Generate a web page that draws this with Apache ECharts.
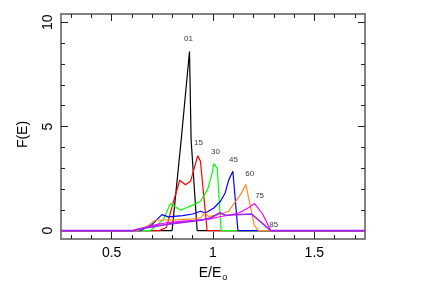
<!DOCTYPE html>
<html><head><meta charset="utf-8">
<script src="https://cdn.jsdelivr.net/npm/echarts@6/dist/echarts.min.js"></script>
<style>html,body{margin:0;padding:0;background:#fff}#c{width:422px;height:288px}</style>
</head><body><div id="c"></div>
<script>
// Data: [E/Eo, F(E)]
const s01 = [[0.25,0],[0.798,0],[0.843,4.35],[0.884,8.6],[0.892,4.35],[0.922,0],[1.75,0]];
const s15 = [[0.25,0],[0.735,0],[0.77,0.15],[0.803,1.33],[0.836,2.42],[0.864,2.2],[0.889,2.37],[0.925,3.6],[0.938,3.33],[0.971,0],[1.75,0]];
const s30 = [[0.25,0],[0.69,0],[0.755,0.53],[0.79,1.3],[0.839,0.98],[0.905,1.25],[0.938,1.41],[0.973,1.97],[0.996,2.77],[1.004,3.22],[1.021,3.0],[1.04,0],[1.75,0]];
const s45 = [[0.25,0],[0.64,0],[0.70,0.3],[0.748,0.77],[0.78,0.66],[0.85,0.72],[0.90,0.8],[0.938,0.93],[0.963,0.85],[1.004,1.09],[1.037,1.41],[1.06,1.81],[1.078,2.45],[1.098,2.85],[1.103,2.8],[1.123,0],[1.75,0]];
const s60 = [[0.25,0],[0.63,0],[0.68,0.25],[0.715,0.5],[0.80,0.52],[0.90,0.57],[0.94,0.62],[0.958,0.85],[0.98,0.68],[1.04,0.8],[1.077,0.93],[1.10,1.25],[1.136,1.73],[1.162,2.21],[1.204,0.25],[1.224,0],[1.75,0]];
const s75 = [[0.25,0],[0.60,0],[0.65,0.12],[0.70,0.25],[0.77,0.38],[0.85,0.46],[0.91,0.5],[0.98,0.55],[1.04,0.68],[1.08,0.74],[1.13,0.86],[1.175,1.1],[1.205,1.3],[1.245,0.8],[1.285,0],[1.75,0]];
const s85 = [[0.25,0],[0.60,0],[0.65,0.1],[0.69,0.17],[0.77,0.3],[0.87,0.42],[0.95,0.52],[0.99,0.62],[1.035,0.86],[1.06,0.74],[1.19,0.8],[1.285,0],[1.75,0]];
const seriesNames = ['01','15','30','45','60','75','85'];
const seriesColors = ['#000000','#ff0000','#00ff00','#0000ff','#ff8c1a','#ff00ff','#a020f0'];
const seriesData = [s01,s15,s30,s45,s60,s75,s85];
// label anchor positions (data coords)
const labelPos = [[0.879,9.2],[0.928,4.21],[1.012,3.78],[1.101,3.39],[1.181,2.72],[1.230,1.67],[1.30,0.27]];
const xMinorTicks = [0.3,0.4,0.6,0.7,0.8,0.9,1.1,1.2,1.3,1.4,1.6,1.7];
const xMajorTicks = [0.5,1.0,1.5];
const yMinorTicks = [1,2,3,4,6,7,8,9];
const yMajorTicks = [0,5,10];

const chart = echarts.init(document.getElementById('c'), null, {renderer:'canvas'});
const FONT = 'Liberation Sans, Arial, sans-serif';
const axisLineStyle = {color:'#7a7a7a', width:1.5};
function xAx(pos, ticks, len, labels, name){
  return {type:'value', min:0.25, max:1.75, position:pos, gridIndex:0,
    axisLine:{show:true, onZero:false, lineStyle:axisLineStyle},
    splitLine:{show:false},
    axisTick:{show:true, inside:true, length:len, customValues:ticks, lineStyle:{color:'#222', width:1}},
    axisLabel:{show:!!labels, customValues:labels||[], margin:7, color:'#000', fontSize:14, fontFamily:FONT,
      formatter: v => String(v)},
    name: name||'', nameLocation:'middle', nameGap:25,
    nameTextStyle:{color:'#000', fontFamily:FONT, rich:{a:{fontSize:14, fontFamily:FONT, color:'#000'}, s:{fontSize:9, fontFamily:FONT, color:'#000', padding:[9,0,0,1]}}}
  };
}
function yAx(pos, ticks, len, labels, name){
  return {type:'value', min:-0.4, max:10.4, position:pos, gridIndex:0,
    axisLine:{show:true, onZero:false, lineStyle:axisLineStyle},
    splitLine:{show:false},
    axisTick:{show:true, inside:true, length:len, customValues:ticks, lineStyle:{color:'#222', width:1}},
    axisLabel:{show:!!labels, customValues:labels||[], rotate:90, margin:6, color:'#000', fontSize:14, fontFamily:FONT},
    name: name||'', nameLocation:'middle', nameGap:31, nameRotate:90,
    nameTextStyle:{color:'#000', fontSize:14, fontFamily:FONT, padding:[0,16,0,0]}
  };
}
const series = seriesData.map((d,i)=>({
  type:'line', name:seriesNames[i], data:d, xAxisIndex:0, yAxisIndex:0,
  showSymbol:false, symbol:'none', animation:false,
  lineStyle:{color:seriesColors[i], width: i===6 ? 1.6 : 1.2},
  z: 2+i
}));
series.push({
  type:'scatter', xAxisIndex:0, yAxisIndex:0, symbolSize:0, animation:false, z:20,
  data: labelPos.map((p,i)=>({value:p, name:seriesNames[i]})),
  label:{show:true, position:'inside', formatter: p=>p.name, color:'#000', fontSize:8, fontFamily:FONT}
});
chart.setOption({
  animation:false,
  backgroundColor:'#fff',
  grid:{left:61, right:57, top:14, bottom:49, containLabel:false, outerBoundsMode:'none'},
  xAxis:[
    xAx('bottom', xMinorTicks, 4, xMajorTicks, '{a|E/E}{s|o}'),
    xAx('bottom', xMajorTicks, 7, null),
    xAx('top', xMinorTicks, 4, null),
    xAx('top', xMajorTicks, 7, null)
  ],
  yAxis:[
    yAx('left', yMinorTicks, 4, yMajorTicks, 'F(E)'),
    yAx('left', yMajorTicks, 7, null),
    yAx('right', yMinorTicks, 4, null),
    yAx('right', yMajorTicks, 7, null)
  ],
  series: series
});
</script></body></html>
